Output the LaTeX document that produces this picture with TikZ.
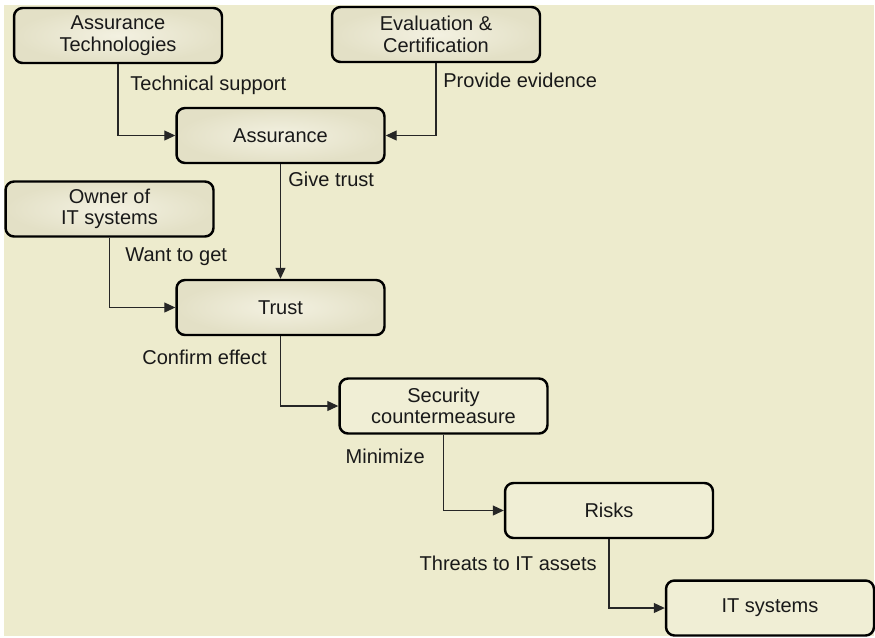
\documentclass[tikz,border=0pt]{standalone}
\usepackage{fontspec}
\setmainfont{Liberation Sans}
\usetikzlibrary{arrows.meta}

\definecolor{bg}{RGB}{237,235,205}
\definecolor{boxlight}{RGB}{243,241,225}
\definecolor{boxdark}{RGB}{227,224,198}
\definecolor{boxflat}{RGB}{240,238,213}

\tikzset{
  box/.style={draw=black, line width=1.4pt, rounded corners=0.17cm,
    minimum width=4.16cm, minimum height=1.1cm, inner sep=0pt,
    align=center, text=black!90, font=\fontsize{11.4}{12.3}\selectfont},
  shadedbox/.style={box, inner color=boxlight, outer color=boxdark},
  flatbox/.style={box, fill=boxflat},
  link/.style={draw=black!85, line width=0.6pt,
    -{Triangle[length=0.22cm, width=0.2cm]}},
  lbl/.style={inner sep=0pt, text=black!90, font=\fontsize{11.4}{12.3}\selectfont}
}

\begin{document}
\begin{tikzpicture}  % ------ From assurance to IT systems --------------
      [x=0.02cm, y=-0.02cm]

    \useasboundingbox (0,0) rectangle (875,637);
    \fill[white] (0,0) rectangle (875,637);
    \fill[bg] (4,5) rectangle (874,636);

    \node[shadedbox] (AT) at (118,35.5) {Assurance\\Technologies};
    \node[shadedbox] (EC) at (436,34.5) {Evaluation \&\\Certification};
    \node[shadedbox] (AS) at (280.5,135.5) {Assurance};
    \node[shadedbox] (OW) at (109.5,209) {Owner of\\IT systems};
    \node[shadedbox] (TR) at (280.5,307.5) {Trust};
    \node[flatbox] (SC) at (443.5,406) {Security\\countermeasure};
    \node[flatbox] (RK) at (609,510.5) {Risks};
    \node[flatbox] (IT) at (770,608) {IT systems};

    \draw[link] (AT.south) |- (AS.west);
    \draw[link] (EC.south) |- (AS.east);
    \draw[link] (AS.south) -- (TR.north);
    \draw[link] (OW.south) |- (TR.west);
    \draw[link] (TR.south) |- (SC.west);
    \draw[link] (SC.south) |- (RK.west);
    \draw[link] (RK.south) |- (IT.west);

    \node[lbl, anchor=mid west] (l1) at (130,86) {Technical support};
    \node[lbl, anchor=mid west] (l2) at (443,83) {Provide evidence};
    \node[lbl, anchor=mid west] (l3) at (288,182) {Give trust};
    \node[lbl, anchor=mid west] (l4) at (125,257) {Want to get};
    \node[lbl, anchor=mid east] (l5) at (267,360) {Confirm effect};
    \node[lbl, anchor=mid east] (l6) at (425,459) {Minimize};
    \node[lbl, anchor=mid east] (l7) at (597,566) {Threats to IT assets};
\end{tikzpicture}
\end{document}
